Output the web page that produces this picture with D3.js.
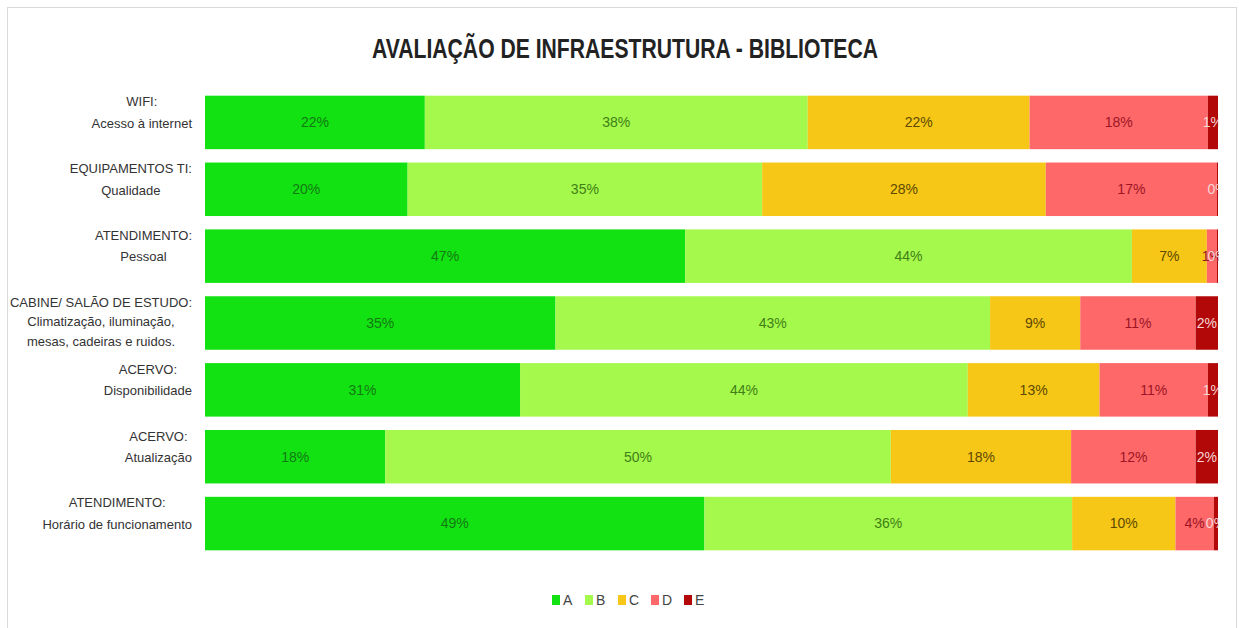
<!DOCTYPE html>
<html>
<head>
<meta charset="utf-8">
<script src="https://cdn.jsdelivr.net/npm/d3@7"></script>
<style>
  body { margin: 0; background: #fff; }
  svg { display: block; }
</style>
</head>
<body>
<svg id="chart"></svg>
<script>
var width = 1239,
    height = 628;

// categories, top to bottom (lines split on "|")
var categories = [
  "WIFI:|Acesso à internet",
  "EQUIPAMENTOS TI:|Qualidade",
  "ATENDIMENTO:|Pessoal",
  "CABINE/ SALÃO DE ESTUDO:|Climatização, iluminação,|mesas, cadeiras e ruidos.",
  "ACERVO:|Disponibilidade",
  "ACERVO:|Atualização",
  "ATENDIMENTO:|Horário de funcionamento"
];
var keys = ["A", "B", "C", "D", "E"];

// percentages per grade
var valuesA = [21.7, 20.0, 47.4, 34.6, 31.1, 17.8, 49.3];
var valuesB = [37.8, 35.0, 44.1, 42.9, 44.2, 49.9, 36.3];
var valuesC = [21.9, 28.0,  7.4,  8.9, 13.0, 17.8, 10.2];
var valuesD = [17.6, 16.9,  1.0, 11.4, 10.7, 12.3,  3.8];
var valuesE = [ 1.0,  0.1,  0.1,  2.2,  1.0,  2.2,  0.4];

var colors = ["#12e212", "#a5f84c", "#f6c717", "#fe6868", "#b20808"];
var labelColors = ["#137a13", "#3f7f16", "#5e4700", "#9c1526", "#f6d6d6"];

var rows = categories.map(function(c, i) {
  return { cat: c, A: valuesA[i], B: valuesB[i], C: valuesC[i], D: valuesD[i], E: valuesE[i] };
});

var series = d3.stack().keys(keys).offset(d3.stackOffsetExpand)(rows);

var svg = d3.select("#chart").attr("width", width).attr("height", height);

// outer frame
svg.append("rect")
    .attr("x", 7.5).attr("y", 7.5)
    .attr("width", 1229).attr("height", 640)
    .attr("fill", "#fff")
    .attr("stroke", "#d9d9d9");

svg.append("text")
    .attr("x", 625).attr("y", 58)
    .attr("text-anchor", "middle")
    .attr("textLength", 506)
    .attr("lengthAdjust", "spacingAndGlyphs")
    .style("font-family", "'Liberation Sans', Arial, sans-serif")
    .style("font-weight", "bold")
    .style("font-size", "27px")
    .style("fill", "#222")
    .text("AVALIAÇÃO DE INFRAESTRUTURA - BIBLIOTECA");

var x = d3.scaleLinear().domain([0, 1]).range([205, 1218]);
var y = d3.scaleBand().domain(categories).range([89, 557]).paddingInner(0.2).paddingOuter(0.1);

svg.append("clipPath").attr("id", "plotclip")
  .append("rect").attr("x", 205).attr("y", 80).attr("width", 1014).attr("height", 490);

var layer = svg.append("g").selectAll("g")
    .data(series)
    .enter().append("g")
    .attr("fill", function(d, i) { return colors[i]; });

layer.selectAll("rect")
    .data(function(d) { return d; })
    .enter().append("rect")
    .attr("x", function(d) { return x(d[0]); })
    .attr("y", function(d) { return y(d.data.cat); })
    .attr("width", function(d) { return x(d[1]) - x(d[0]); })
    .attr("height", y.bandwidth());

var labels = svg.append("g").attr("clip-path", "url(#plotclip)");
series.forEach(function(s, si) {
  labels.selectAll(null)
      .data(s)
      .enter().append("text")
      .attr("x", function(d) { return (x(d[0]) + x(d[1])) / 2; })
      .attr("y", function(d) { return y(d.data.cat) + y.bandwidth() / 2; })
      .attr("dy", "0.35em")
      .attr("text-anchor", "middle")
      .style("font-family", "'Liberation Sans', Arial, sans-serif")
      .style("font-size", "14px")
      .style("fill", labelColors[si])
      .text(function(d) { return Math.round(d.data[s.key]) + "%"; });
});

// category labels: block right-aligned, lines centred within block
var catFont = "13px 'Liberation Sans', Arial, sans-serif";
var ctx = document.createElement("canvas").getContext("2d");
ctx.font = catFont;
categories.forEach(function(c) {
  var lines = c.split("|");
  var maxW = d3.max(lines, function(l) { return ctx.measureText(l).width; });
  var cx = 192 - maxW / 2;
  var top = y(c) + 6;
  var t = svg.append("text")
      .attr("text-anchor", "middle")
      .style("font", catFont)
      .style("fill", "#333");
  lines.forEach(function(l, li) {
    t.append("tspan")
        .attr("x", cx)
        .attr("y", top + li * (lines.length > 2 ? 19.5 : 21.5))
        .attr("dy", "0.35em")
        .text(l);
  });
});

// legend
var legend = svg.append("g").selectAll("g")
    .data(keys)
    .enter().append("g")
    .attr("transform", function(d, i) { return "translate(" + (552 + i * 33) + ",600)"; });
legend.append("rect")
    .attr("x", 0).attr("y", -5)
    .attr("width", 8).attr("height", 10)
    .attr("fill", function(d, i) { return colors[i]; });
legend.append("text")
    .attr("x", 11).attr("y", 0).attr("dy", "0.35em")
    .style("font-family", "'Liberation Sans', Arial, sans-serif")
    .style("font-size", "14px")
    .style("fill", "#444")
    .text(function(d) { return d; });
</script>
</body>
</html>
